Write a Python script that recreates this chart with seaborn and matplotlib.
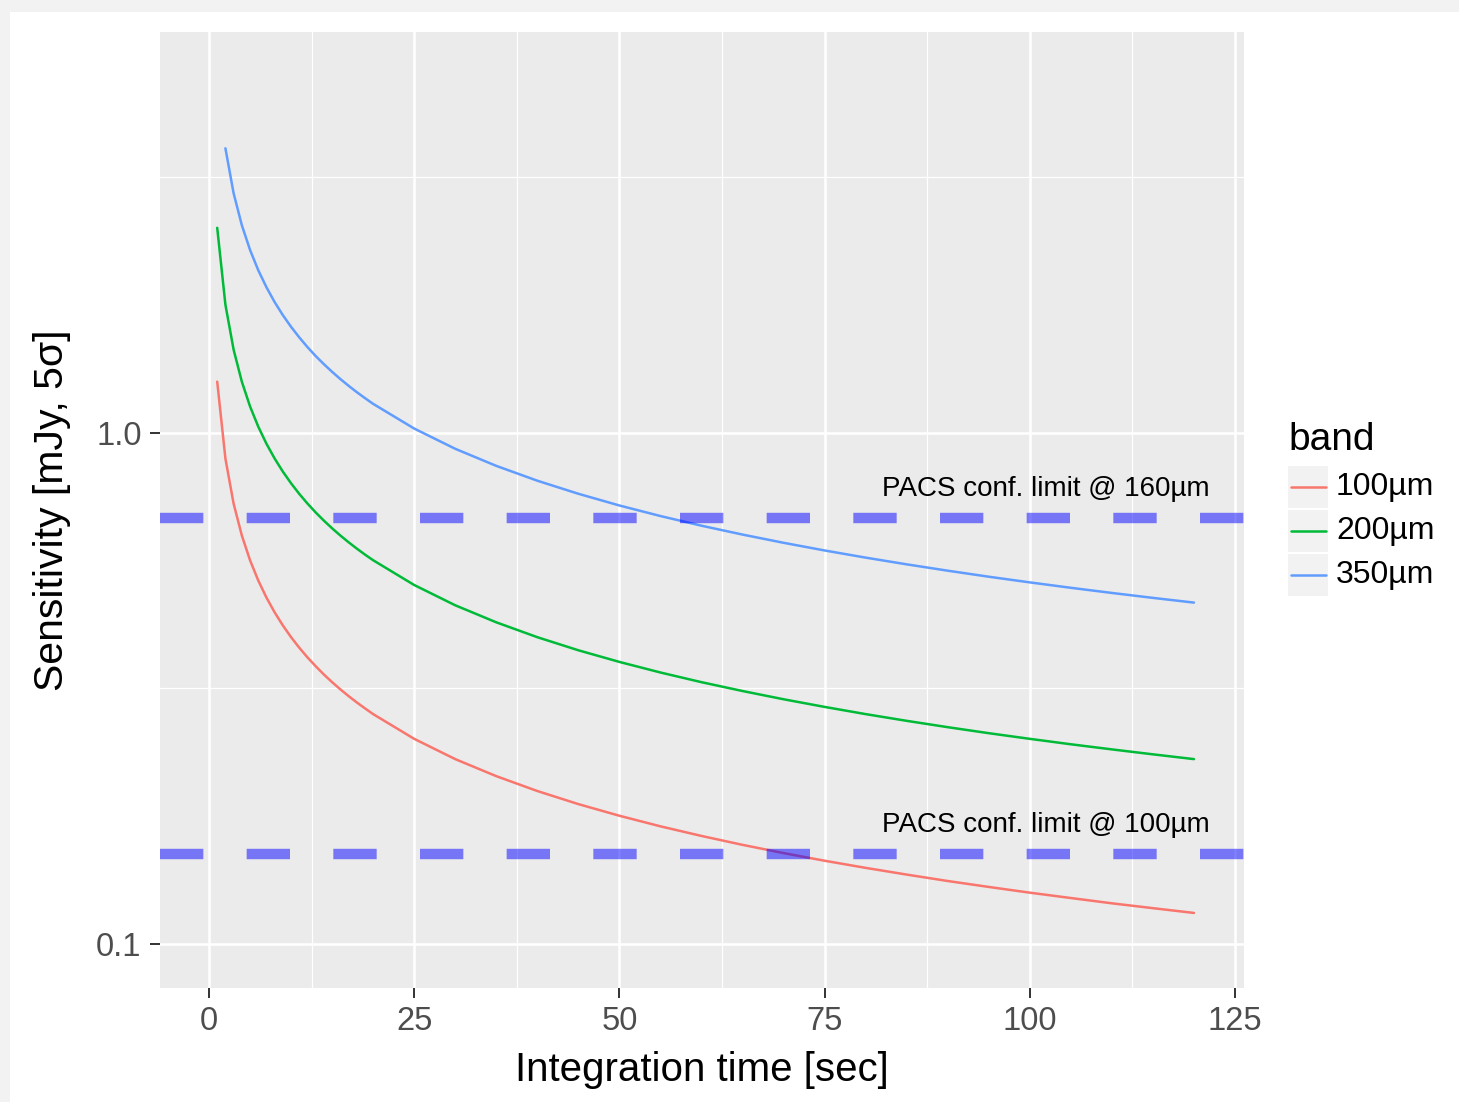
import numpy as np
import pandas as pd
import matplotlib
matplotlib.use("Agg")
import matplotlib.pyplot as plt
import seaborn as sns
from matplotlib.patches import Rectangle
from matplotlib.lines import Line2D
from matplotlib.ticker import FixedLocator, NullFormatter

# values
time_100 = [1, 2, 3, 4, 5, 6, 7, 8, 9, 10, 11, 12, 13, 14, 15, 16, 17, 18, 19, 20,
            25, 30, 35, 40, 45, 50, 55, 60, 65, 70, 75, 80, 85, 90, 95, 100, 105, 110, 115, 120]
sens_100 = [1.26, 0.891, 0.727, 0.630, 0.5635, 0.5144, 0.4762, 0.4455, 0.420, 0.3984,
            0.3799, 0.3637, 0.3495, 0.3367, 0.3253, 0.315, 0.3056, 0.2970, 0.2891, 0.2817,
            0.252, 0.2300, 0.2130, 0.1992, 0.1878, 0.1782, 0.1699, 0.1627, 0.1563, 0.1506,
            0.1455, 0.1409, 0.1367, 0.1328, 0.1293, 0.1260, 0.1230, 0.1201, 0.1175, 0.1150]
time_200 = time_100
sens_200 = [2.52, 1.782, 1.455, 1.26, 1.127, 1.029, 0.9525, 0.891, 0.840, 0.797,
            0.7598, 0.7275, 0.6989, 0.6735, 0.6507, 0.630, 0.6112, 0.594, 0.5781, 0.5635,
            0.504, 0.4600, 0.4260, 0.3984, 0.3756, 0.3564, 0.3398, 0.3253, 0.3126, 0.3012,
            0.2910, 0.2817, 0.2733, 0.2656, 0.2585, 0.2520, 0.2459, 0.2403, 0.2350, 0.2300]
time_350 = time_100[1:]
sens_350 = [3.606, 2.944, 2.55, 2.281, 2.082, 1.928, 1.803, 1.70, 1.613, 1.538,
            1.472, 1.414, 1.363, 1.317, 1.275, 1.237, 1.202, 1.170, 1.140,
            1.020, 0.9311, 0.8621, 0.8064, 0.7603, 0.7212, 0.6877, 0.6584, 0.6326, 0.6096,
            0.5889, 0.5702, 0.5532, 0.5376, 0.5232, 0.5100, 0.4977, 0.4863, 0.4756, 0.4656]
bands = ["100µm", "200µm", "350µm"]
band_colors = ["#F8766D", "#00BA38", "#619CFF"]

conf_limits = [0.682, 0.150]
conf_labels = ["PACS conf. limit @ 160µm", "PACS conf. limit @ 100µm"]
conf_label_y = [0.777, 0.171]

df = pd.concat([
    pd.DataFrame({"time": time_100, "sens": sens_100, "band": bands[0]}),
    pd.DataFrame({"time": time_200, "sens": sens_200, "band": bands[1]}),
    pd.DataFrame({"time": time_350, "sens": sens_350, "band": bands[2]}),
])

sns.set_theme(style="darkgrid", rc={
    "axes.facecolor": "#EBEBEB",
    "grid.color": "white",
})
plt.rcParams["font.family"] = ["Liberation Sans", "DejaVu Sans"]

W, H = 1459, 1102
fig = plt.figure(figsize=(W / 100, H / 100), dpi=100)
fig.patch.set_facecolor("#f2f2f2")
fig.patches.append(Rectangle((10 / W, 0), 1, 1 - 12 / H, transform=fig.transFigure,
                             facecolor="white", edgecolor="none", zorder=-1))

ax = fig.add_axes([160 / W, 1 - 988 / H, 1084 / W, 956 / H])

sns.lineplot(data=df, x="time", y="sens", hue="band", hue_order=bands,
             palette=band_colors, estimator=None, legend=False, linewidth=1.8, ax=ax)

for yv in conf_limits:
    ax.axhline(yv, color="blue", alpha=0.5, linewidth=7.5,
               linestyle=(0, (4.16, 4.16)), zorder=3)
for lab, yv in zip(conf_labels, conf_label_y):
    ax.text(102, yv, lab, ha="center", va="center", fontsize=20, color="black")

ax.set_yscale("log")
ax.set_xlim(-5.97, 126.1)
ax.set_ylim(0.082, 6.09)

ax.xaxis.set_major_locator(FixedLocator([0, 25, 50, 75, 100, 125]))
ax.xaxis.set_minor_locator(FixedLocator([12.5, 37.5, 62.5, 87.5, 112.5]))
ax.yaxis.set_major_locator(FixedLocator([0.1, 1.0]))
ax.set_yticklabels(["0.1", "1.0"])
ax.yaxis.set_minor_locator(FixedLocator([10 ** -0.5, 10 ** 0.5]))
ax.yaxis.set_minor_formatter(NullFormatter())

ax.grid(which="major", color="white", linewidth=1.8)
ax.grid(which="minor", color="white", linewidth=0.9)
ax.tick_params(which="major", length=7.2, width=1.4, color="#333333",
               labelsize=23.5, labelcolor="#4D4D4D", pad=6, bottom=True, left=True)
ax.tick_params(which="minor", length=0)
for s in ax.spines.values():
    s.set_visible(False)

ax.set_xlabel("Integration time [sec]", fontsize=29, color="black", labelpad=10)
ax.set_ylabel("Sensitivity [mJy, 5σ]", fontsize=29.5, color="black", labelpad=18)

# legend drawn by hand, ggplot style
fig.text(1288 / W, 1 - 440 / H, "band", fontsize=28, va="center", ha="left", color="black")
key_tops = [466, 510, 554]
for top, lab, col in zip(key_tops, bands, band_colors):
    fig.patches.append(Rectangle((1288 / W, 1 - (top + 42) / H), 40 / W, 42 / H,
                                 transform=fig.transFigure, facecolor="#F2F2F2",
                                 edgecolor="none"))
    yc = 1 - (top + 21) / H
    fig.lines.append(Line2D([1291 / W, 1326 / W], [yc, yc], transform=fig.transFigure,
                            color=col, linewidth=1.8))
    fig.text(1336 / W, yc, lab, fontsize=23, va="center", ha="left", color="black")

fig.savefig("out.png", dpi=100, facecolor=fig.get_facecolor())
